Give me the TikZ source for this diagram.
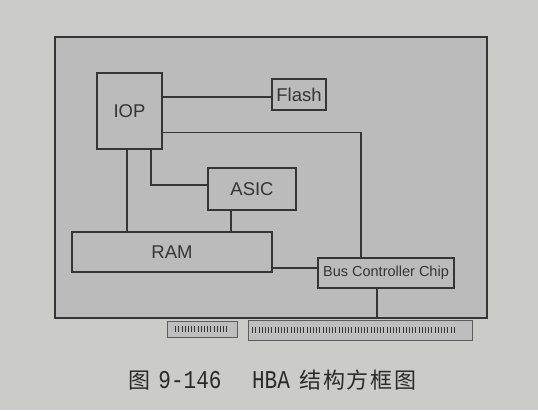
\documentclass[tikz,border=0pt]{standalone}
\usepackage{fontspec}
\usetikzlibrary{calc}
\setmainfont{Liberation Sans}
\newfontfamily\cjk[LetterSpace=8]{Noto Sans CJK SC}
\newfontfamily\capmono{Liberation Mono}
\definecolor{paper}{HTML}{CBCBC9}
\definecolor{boardfill}{HTML}{BBBBBB}
\definecolor{ink}{HTML}{353535}
\definecolor{capink}{HTML}{2A2A2A}
\begin{document}
\begin{tikzpicture}[x=1pt,y=-1pt,
  chip/.style={draw=ink, line width=1.1pt, fill=boardfill, inner sep=0pt, text=ink},
  wire/.style={draw=ink, line width=1.1pt},
  slot/.style={draw=ink!80, line width=0.9pt, fill=boardfill!95!white},
  pin/.style={draw=ink, line width=0.7pt},
  capt/.style={text=capink, inner sep=0pt, anchor=base}]
\fill[paper] (0,0) rectangle (538,410);
\useasboundingbox (0,0) rectangle (538,410);
% board
\node[draw=ink, line width=1.1pt, fill=boardfill, minimum width=432pt, minimum height=281pt, inner sep=0pt] (board) at (271,177.5) {};
% edge connectors
\node[slot, minimum width=70pt, minimum height=16pt, inner sep=0pt] (slotA) at (202,329) {};
\node[slot, minimum width=224pt, minimum height=20pt, inner sep=0pt] (slotB) at (360,330) {};
\foreach \i in {0,...,16} {\draw[pin] ($(slotA.west)+(9+3.2*\i,-3)$) -- ++(0,6);}
\foreach \i in {0,...,63} {\draw[pin] ($(slotB.west)+(5+3.2*\i,-3)$) -- ++(0,6);}
% chips
\node[chip, minimum width=65pt, minimum height=76pt, font=\fontsize{18.5}{20}\selectfont] (IOP) at (129.5,111) {IOP};
\node[chip, minimum width=54pt, minimum height=31pt, font=\fontsize{18.5}{20}\selectfont] (Flash) at (299,94.5) {Flash};
\node[chip, minimum width=88pt, minimum height=42pt, font=\fontsize{18.5}{20}\selectfont] (ASIC) at (252,189) {ASIC};
\node[chip, minimum width=200pt, minimum height=40pt, font=\fontsize{18.5}{20}\selectfont] (RAM) at (172,252) {RAM};
\node[chip, minimum width=136pt, minimum height=30pt, font=\fontsize{14.5}{16}\selectfont] (Bus) at (386,273) {Bus Controller Chip};
% wires
\draw[wire] ([yshift=-2.5pt]Flash.west) -- ([yshift=-2.5pt]Flash.west -| IOP.east);
\draw[wire] ([yshift=-60pt]IOP.north east) -| ([xshift=-25pt]Bus.north);
\draw[wire] ([xshift=21.5pt]IOP.south) |- ([yshift=4pt]ASIC.west);
\draw[wire] ([xshift=-2.5pt]IOP.south) -- ([xshift=-2.5pt]IOP.south |- RAM.north);
\draw[wire] ([xshift=-21pt]ASIC.south) -- ([xshift=-21pt]ASIC.south |- RAM.north);
\draw[wire] ([yshift=-16pt]RAM.east) -- ([yshift=-16pt]RAM.east -| Bus.west);
\draw[wire] ([xshift=-9pt]Bus.south) -- ([xshift=-9pt]Bus.south |- board.south);
% caption
\node[capt, font=\cjk\fontsize{22}{24}\selectfont] (fig) at (139,388) {图};
\node[capt, font=\capmono\fontsize{21}{24}\selectfont] (num) at (190,388) {\scalebox{1}[1.22]{9-146}};
\node[capt, font=\capmono\fontsize{21}{24}\selectfont] (hba) at (271,388) {\scalebox{1}[1.22]{HBA}};
\node[capt, font=\cjk\fontsize{22}{24}\selectfont] (title) at (358,388) {结构方框图};
\end{tikzpicture}
\end{document}
